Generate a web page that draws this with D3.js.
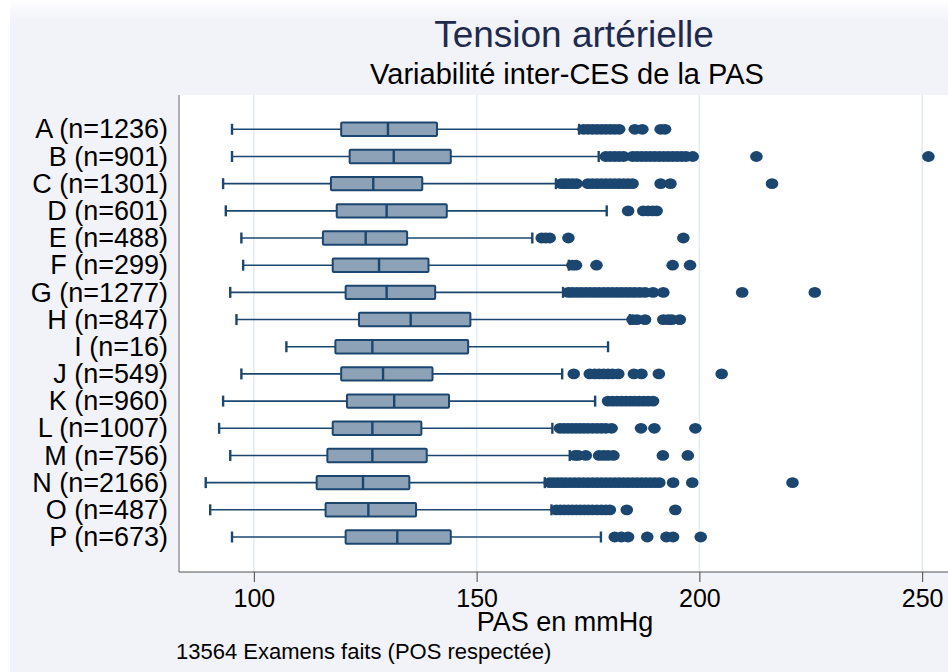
<!DOCTYPE html>
<html>
<head>
<meta charset="utf-8">
<script src="https://cdn.jsdelivr.net/npm/d3@7"></script>
<style>
  body { margin: 0; background: #fff; }
  svg { display: block; font-family: "Liberation Sans", Arial, sans-serif; }
</style>
</head>
<body>
<div id="chart"></div>
<script>
const width = 948;
const height = 672;

// Data.
const categories = ["A", "B", "C", "D", "E", "F", "G", "H", "I", "J", "K", "L", "M", "N", "O", "P"];
const counts = [1236, 901, 1301, 601, 488, 299, 1277, 847, 16, 549, 960, 1007, 756, 2166, 487, 673];
const whiskerLow = [95.1, 95.1, 93.1, 93.7, 97.2, 97.6, 94.7, 96.1, 107.3, 97.2, 93.1, 92.2, 94.7, 89.2, 90.2, 95.1];
const q1 = [119.6, 121.5, 117.3, 118.6, 115.5, 117.7, 120.6, 123.6, 118.3, 119.6, 120.9, 117.7, 116.5, 114.1, 116.1, 120.6];
const median = [130.1, 131.4, 126.8, 129.8, 125.1, 128.1, 129.8, 135.2, 126.6, 129.0, 131.5, 126.6, 126.6, 124.5, 125.7, 132.2];
const q3 = [141.1, 144.2, 137.8, 143.3, 134.4, 139.2, 140.7, 148.6, 148.1, 140.1, 143.8, 137.6, 138.8, 134.9, 136.4, 144.2];
const whiskerHigh = [173.0, 177.4, 167.8, 179.2, 162.5, 170.7, 169.4, 184.4, 179.5, 169.2, 176.6, 167.0, 170.9, 165.3, 166.8, 177.9];
const outliers = [
  [174, 175, 176, 177, 178, 179, 180, 181, 182, 185.5, 187.2, 191.3, 192.3],
  [179, 180, 181, 182, 183, 185, 186, 187, 188, 189, 190, 191, 192, 193, 194, 195, 196, 197, 198.5, 212.8, 251.4],
  [169, 169.8, 170.6, 171.5, 172.4, 175, 176, 177, 178, 179, 180, 181, 182, 183, 184, 185, 191.3, 193.5, 216.3],
  [184, 187.4, 188.5, 189.5, 190.4],
  [164.6, 165.5, 166.4, 170.6, 196.4],
  [171.5, 172.3, 176.9, 194, 197.9],
  [170.6, 171.5, 172.5, 173.5, 174.5, 175.5, 176.5, 177.5, 178.5, 179.5, 180.5, 181.5, 182.5, 183.5, 184.5, 185.5, 186.6, 187.8, 189.6, 191.9, 209.6, 225.9],
  [185, 186, 187.8, 191.9, 193, 193.8, 195.6],
  [],
  [171.8, 175.4, 176.5, 177.5, 178.5, 179.5, 180.5, 181.8, 185.3, 187, 190.9, 205],
  [179.5, 180.5, 181.5, 182.5, 183.5, 184.5, 185.5, 186.5, 187.5, 188.5, 189.6],
  [168.7, 169.6, 170.5, 171.4, 172.3, 173.2, 174.1, 175, 176, 177, 178, 179, 180.3, 186.9, 189.9, 199.1],
  [172.1, 172.8, 174.5, 177.5, 178.5, 179.5, 180.7, 191.8, 197.4],
  [166.4, 167.3, 168.2, 169.1, 170, 171, 172, 173, 174, 175, 176, 177, 178, 179, 180, 181, 182, 183, 184, 185, 186, 187, 188, 189, 190, 191, 194.1, 198.4, 220.9],
  [167.9, 168.8, 169.7, 170.6, 171.5, 172.4, 173.3, 174.2, 175.1, 176, 177, 178, 179, 179.9, 183.7, 194.6],
  [181, 182.5, 184, 188.3, 192.6, 194.1, 200.3]
];
const xTicks = [100, 150, 200, 250];

const labels = categories.map((c, i) => `${c} (n=${counts[i]})`);

const navy = "#1b466f";
const boxFill = "#8ea2b7";

const svg = d3.select("#chart")
  .append("svg")
  .attr("width", width)
  .attr("height", height);

// Background: grey graph region with a fade at the top.
const defs = svg.append("defs");
const fade = defs.append("linearGradient")
  .attr("id", "fade")
  .attr("x1", 0).attr("x2", 0).attr("y1", 0).attr("y2", 1);
fade.append("stop").attr("offset", "0%").attr("stop-color", "#fff").attr("stop-opacity", 1);
fade.append("stop").attr("offset", "100%").attr("stop-color", "#fff").attr("stop-opacity", 0);

svg.append("rect")
  .attr("x", 10).attr("y", 0)
  .attr("width", width - 10).attr("height", height)
  .attr("fill", "#f2f3f9");
svg.append("rect")
  .attr("x", 10).attr("y", 0)
  .attr("width", width - 10).attr("height", 20)
  .attr("fill", "url(#fade)");

const plot = { left: 179, right: 948, top: 95, bottom: 572 };

svg.append("rect")
  .attr("x", plot.left).attr("y", plot.top)
  .attr("width", plot.right - plot.left).attr("height", plot.bottom - plot.top)
  .attr("fill", "#fff");

const x = d3.scaleLinear()
  .domain([83.2, 255.8])
  .range([plot.left, plot.right]);

const y = d3.scalePoint()
  .domain(labels)
  .range([129.3, 537]);

// Grid lines.
svg.append("g")
  .selectAll("line")
  .data(xTicks)
  .join("line")
  .attr("x1", d => x(d)).attr("x2", d => x(d))
  .attr("y1", plot.top).attr("y2", plot.bottom)
  .attr("stroke", "#e3edf1")
  .attr("stroke-width", 1.6);

// Axes.
const xAxis = svg.append("g")
  .attr("transform", `translate(0,${plot.bottom})`)
  .call(d3.axisBottom(x).tickValues(xTicks).tickSize(10).tickPadding(7))
  .call(g => g.select(".domain").remove());
xAxis.selectAll(".tick line").attr("stroke", "#444");
xAxis.selectAll(".tick text")
  .attr("fill", "#000")
  .attr("font-size", 25)
  .attr("font-family", "Liberation Sans, Arial, sans-serif");

const yAxis = svg.append("g")
  .attr("transform", `translate(${plot.left},0)`)
  .call(d3.axisLeft(y).tickSize(0).tickPadding(11))
  .call(g => g.select(".domain").remove());
yAxis.selectAll(".tick text")
  .attr("fill", "#000")
  .attr("font-size", 27)
  .attr("font-family", "Liberation Sans, Arial, sans-serif");

svg.append("line")
  .attr("x1", plot.left).attr("x2", plot.right)
  .attr("y1", plot.bottom).attr("y2", plot.bottom)
  .attr("stroke", "#555");
svg.append("line")
  .attr("x1", plot.left).attr("x2", plot.left)
  .attr("y1", plot.top).attr("y2", plot.bottom)
  .attr("stroke", "#666");

// Boxes.
const rows = categories.map((c, i) => ({
  label: labels[i], lo: whiskerLow[i], q1: q1[i], med: median[i], q3: q3[i], hi: whiskerHigh[i], out: outliers[i]
}));

const row = svg.append("g")
  .selectAll("g")
  .data(rows)
  .join("g")
  .attr("transform", d => `translate(0,${y(d.label)})`);

row.append("line")
  .attr("x1", d => x(d.lo)).attr("x2", d => x(d.hi))
  .attr("stroke", navy)
  .attr("stroke-width", 1.6);

row.selectAll("line.cap")
  .data(d => [d.lo, d.hi])
  .join("line")
  .attr("class", "cap")
  .attr("x1", d => x(d)).attr("x2", d => x(d))
  .attr("y1", -5.5).attr("y2", 5.5)
  .attr("stroke", navy)
  .attr("stroke-width", 2.4);

row.append("rect")
  .attr("x", d => x(d.q1))
  .attr("y", -6.7)
  .attr("width", d => x(d.q3) - x(d.q1))
  .attr("height", 13.4)
  .attr("rx", 1)
  .attr("fill", boxFill)
  .attr("stroke", navy)
  .attr("stroke-width", 2);

row.append("line")
  .attr("x1", d => x(d.med)).attr("x2", d => x(d.med))
  .attr("y1", -6.7).attr("y2", 6.7)
  .attr("stroke", navy)
  .attr("stroke-width", 2.4);

row.selectAll("ellipse")
  .data(d => d.out)
  .join("ellipse")
  .attr("cx", d => x(d))
  .attr("cy", 0)
  .attr("rx", 6.3)
  .attr("ry", 5.4)
  .attr("fill", navy);

// Titles.
svg.append("text")
  .attr("x", 574).attr("y", 47)
  .attr("text-anchor", "middle")
  .attr("font-size", 37)
  .attr("fill", "#1e2b4e")
  .text("Tension artérielle");

svg.append("text")
  .attr("x", 567).attr("y", 84)
  .attr("text-anchor", "middle")
  .attr("font-size", 29)
  .attr("fill", "#000")
  .text("Variabilité inter-CES de la PAS");

svg.append("text")
  .attr("x", 565).attr("y", 631)
  .attr("text-anchor", "middle")
  .attr("font-size", 27)
  .attr("fill", "#000")
  .text("PAS en mmHg");

svg.append("text")
  .attr("x", 176).attr("y", 659)
  .attr("font-size", 22)
  .attr("fill", "#000")
  .text("13564 Examens faits (POS respectée)");
</script>
</body>
</html>
